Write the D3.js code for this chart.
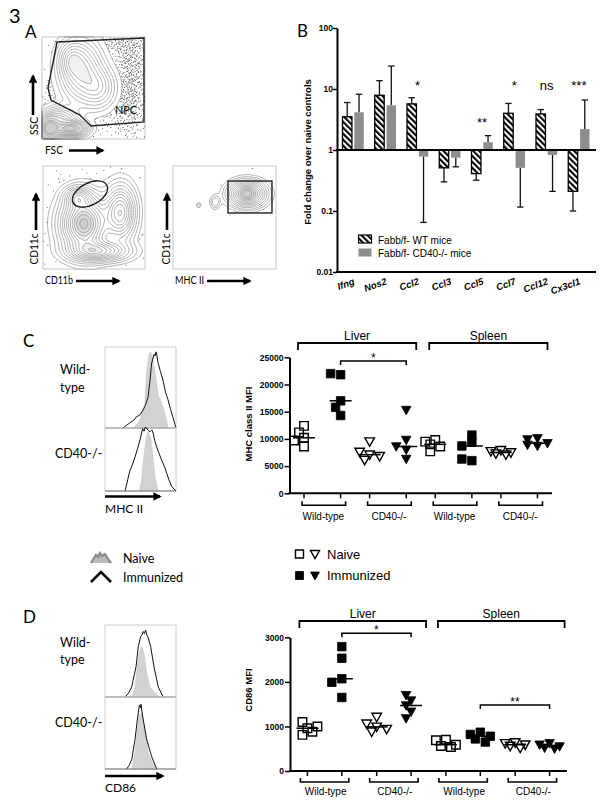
<!DOCTYPE html>
<html><head><meta charset="utf-8">
<script src="https://cdn.jsdelivr.net/npm/d3@7"></script>
<style>body{margin:0;background:#fff}svg{display:block}</style>
</head><body>
<svg id="c" width="604" height="810"></svg>
<script>
// ---------------- DATA ----------------
// Panel B: fold change over naive controls (log scale)
const genes = ["Ifng","Nos2","Ccl2","Ccl3","Ccl5","Ccl7","Ccl12","Cx3cl1"];
const wtFold   = [3.5, 7.9, 5.7, 0.51, 0.41, 4.0, 3.9, 0.21];
const wtErr    = [6.0, 13.7, 7.2, 0.30, 0.32, 5.8, 4.6, 0.10];
const cd40Fold = [4.15, 5.4, 0.78, 0.75, 1.34, 0.51, 0.83, 2.2];
const cd40Err  = [8.2, 23.8, 0.065, 0.53, 1.72, 0.116, 0.21, 6.6];
const sigLabels = ["", "", "*", "", "**", "*", "ns", "***"];
const sigLevel  = [null, null, 9.6, null, 2.4, 9.6, 9.6, 9.6];
const bTicks = [0.01, 0.1, 1, 10, 100];
const bSeries = ["Fabb/f- WT mice", "Fabb/f- CD40-/- mice"];

// Panels C & D: scatter groups
const organs = ["Liver", "Spleen"];
const genotypes = ["Wild-type", "CD40-/-"];
const conditions = ["Naive", "Immunized"];
// column order: organ x genotype x condition
const mhcII = [
  [12400, 10200, 8600, 11200, 9700],
  [21800, 22000, 17000, 14300, 15800],
  [9500, 7100, 7600, 6100, 6800],
  [15300, 9800, 8000, 8600, 6300],
  [9800, 9500, 8600, 7700, 9000],
  [10700, 9400, 8700, 6000, 6300],
  [7900, 7700, 7500, 7300, 7100],
  [10100, 9900, 9200, 8700, 8900]
];
const cd86 = [
  [960, 1100, 810, 1000, 880],
  [2530, 2790, 2070, 1990, 1650],
  [1210, 990, 1060, 880, 940],
  [1580, 1700, 1470, 1330, 1180],
  [700, 690, 560, 540, 590],
  [870, 820, 780, 720, 650],
  [640, 620, 590, 560, 520],
  [620, 590, 550, 520, 500]
];
const mhcTicks = [0, 5000, 10000, 15000, 20000, 25000];
const cd86Ticks = [0, 1000, 2000, 3000];
const sigC = [{from: 1, to: 3, label: "*", at: 24300}];
const sigD = [{from: 1, to: 3, label: "*", at: 3090}, {from: 5, to: 7, label: "**", at: 1480}];

// Histograms: [channel %, count %]
const histC_WT_naive = [[40,0],[49,9.5],[56,30],[58.7,70],[62,91],[64.3,94],[67,86],[70.4,70],[75,40],[80,30],[84.5,17],[89,0]];
const histC_WT_imm = [[25,0],[30,3],[35,6.5],[40,9],[44,13.6],[49,16],[53.5,22],[57,28],[60.6,38],[63.4,59],[65.7,80],[67,84],[69,91],[70.5,89],[71.8,94],[73,90],[74.6,81],[78,70],[81.7,59],[85,45],[88.7,35],[92,24],[95.4,14],[100,0]];
const histC_KO_naive = [[48.4,0],[51.6,17],[54,49],[57.7,81],[59.5,90],[61,94],[62.5,88],[64.3,86],[67,60],[70.4,23],[73.7,4],[75,0]];
const histC_KO_imm = [[28.2,0],[32,18],[35.2,33],[38,40],[42.3,54],[46,68],[49.3,81],[53,99],[55,95],[56.5,101],[58.7,100],[61,96],[63.4,94],[66,97],[68,91],[70,80],[72.8,70],[76,60],[79.8,49],[84,38],[87,28],[90,18],[94,7],[100,0]];
const histD_WT_naive = [[37.6,0],[42.3,14],[45.5,42],[48.4,63],[51.6,70],[55,61],[58.7,33],[63.4,14],[70.4,6],[77.5,0]];
const histD_WT_imm = [[28.2,0],[33,5],[37.6,14],[43.7,42],[46.9,70],[50.2,84],[52,86],[53.9,91],[55.5,88],[57.3,93],[59,86],[61,82],[64.3,70],[69,42],[75,14],[82,0]];
const histD_KO_naive = [[37.6,0],[42.3,22],[45.5,54],[48.4,75],[51.6,78],[55,59],[61,22],[68,6],[72.8,0]];
const histD_KO_imm = [[30.5,0],[34,5],[37.6,13],[42.3,41],[45.5,68],[48.4,89],[50,85],[50.7,90],[52,80],[54,68],[58.7,41],[65.8,17],[72.8,0]];

// Panel A flow plots: density clusters [cx, cy, sx, sy, weight] in frame units
const fscSscClusters = [[0.38,0.33,0.12,0.18,1.0],[0.55,0.5,0.1,0.12,0.6],[0.28,0.22,0.07,0.1,0.5],[0.07,0.9,0.06,0.07,2.2],[0.28,0.9,0.09,0.045,2.0],[0.18,0.8,0.1,0.07,0.8]];
const fscSscDots = [[0.86,0.42,0.09,0.3,1.0],[0.6,0.08,0.25,0.05,0.7],[0.15,0.6,0.07,0.2,0.5],[0.5,0.75,0.3,0.12,0.3]];
const cd11bCd11cClusters = [[0.4,0.56,0.14,0.17,1.0],[0.76,0.45,0.09,0.16,0.7],[0.55,0.83,0.18,0.06,0.6],[0.34,0.3,0.08,0.06,0.4]];
const cd11bCd11cDots = [[0.5,0.55,0.3,0.28,0.45]];
const mhcCd11cClusters = [[0.72,0.27,0.1,0.07,1.0],[0.41,0.35,0.03,0.04,0.15],[0.25,0.38,0.015,0.015,0.1]];
const mhcCd11cDots = [[0.72,0.27,0.16,0.12,0.25]];
const npcGate = [[0.146,0.049],[0.99,0.01],[0.99,0.833],[0.476,0.873],[0.369,0.765],[0.087,0.618],[0.058,0.5]];
const mhcGate = [[0.534,0.146],[0.961,0.456]];

// ---------------- DRAWING ----------------
const ARIAL = "'Liberation Sans', Arial, sans-serif";
const CAL = "Lato, 'Open Sans', sans-serif";
const svg = d3.select("#c");
const defs = svg.append("defs");

function text(x, y, s, size, opts = {}) {
  const t = svg.append("text").attr("x", x).attr("y", y).text(s)
    .attr("font-family", opts.family || ARIAL).attr("font-size", size)
    .attr("fill", opts.fill || "#000");
  if (opts.weight) t.attr("font-weight", opts.weight);
  if (opts.style) t.attr("font-style", opts.style);
  if (opts.anchor) t.attr("text-anchor", opts.anchor);
  if (opts.len) t.attr("textLength", opts.len).attr("lengthAdjust", "spacingAndGlyphs");
  if (opts.rotate !== undefined) t.attr("transform", `rotate(${opts.rotate},${x},${y})`);
  return t;
}

// arrow marker
defs.append("marker").attr("id", "arr").attr("viewBox", "0 0 10 10").attr("refX", 8).attr("refY", 5)
  .attr("markerWidth", 3.2).attr("markerHeight", 3.2).attr("orient", "auto")
  .append("path").attr("d", "M0,0 L10,5 L0,10 z").attr("fill", "#000");
function arrow(x1, y1, x2, y2) {
  svg.append("line").attr("x1", x1).attr("y1", y1).attr("x2", x2).attr("y2", y2)
    .attr("stroke", "#000").attr("stroke-width", 2.6).attr("marker-end", "url(#arr)");
}

// Panel labels
text(9, 23, "3", 20, {family: CAL});
text(25, 38, "A", 17, {family: CAL});
text(297, 37, "B", 17, {family: CAL});
text(23, 347, "C", 17, {family: CAL});
text(23, 623, "D", 17, {family: CAL});

// ---------- Panel A ----------
function mix(clusters, x, y) {
  let s = 0;
  for (const [cx, cy, sx, sy, wt] of clusters)
    s += wt * Math.exp(-((x - cx) ** 2 / (2 * sx * sx) + (y - cy) ** 2 / (2 * sy * sy)));
  return s;
}
function halton(i, b) { let f = 1, r = 0; while (i > 0) { f /= b; r += f * (i % b); i = Math.floor(i / b); } return r; }
function flowPlot(x0, y0, w, h, clusters, levels, dots, nDots) {
  const n = 70;
  const vals = new Float64Array(n * n);
  for (let j = 0; j < n; j++) for (let i = 0; i < n; i++) vals[j * n + i] = mix(clusters, (i + 0.5) / n, (j + 0.5) / n);
  const g = svg.append("g").attr("transform", `translate(${x0},${y0})`);
  g.append("rect").attr("width", w).attr("height", h).attr("fill", "#fff").attr("stroke", "#c8c8c8").attr("stroke-width", 1);
  // stipple (deterministic low-discrepancy sequence thinned by density)
  const pts = [];
  for (let i = 1; i <= nDots; i++) {
    const x = halton(i, 2), y = halton(i, 3), a = halton(i, 5);
    if (a < mix(dots, x, y)) pts.push([x * w, y * h]);
  }
  g.append("g").selectAll("circle").data(pts).join("circle").attr("cx", d => d[0]).attr("cy", d => d[1])
    .attr("r", 0.55).attr("fill", "#555");
  const cs = d3.contours().size([n, n]).thresholds(levels)(vals);
  const path = d3.geoPath(d3.geoIdentity().scale(w / n));
  g.append("g").attr("transform", `scale(1,${h / w})`).selectAll("path").data(cs).join("path")
    .attr("d", path).attr("fill", (d, i) => i === 0 ? "#fff" : (i > levels.length * 0.6 ? "rgba(120,120,120,0.10)" : "none"))
    .attr("stroke", "#808080").attr("stroke-width", 0.6);
  return g;
}
// plot 1
const g1 = flowPlot(42, 37, 103, 102, fscSscClusters, [0.05,0.12,0.2,0.3,0.42,0.55,0.7,0.85,1.0,1.3,1.6,1.9], fscSscDots, 3500);
g1.append("path").attr("d", d3.line().x(d => d[0] * 103).y(d => d[1] * 102).curve(d3.curveLinearClosed)(npcGate))
  .attr("fill", "none").attr("stroke", "#222").attr("stroke-width", 1.4);
text(115, 114, "NPC", 11.5, {family: CAL, len: 22});
arrow(33, 115, 33, 76);
text(38, 126, "SSC", 11.5, {family: CAL, anchor: "middle", rotate: -90, len: 18});
text(45, 154, "FSC", 11.5, {family: CAL, len: 18});
arrow(69, 150.5, 103, 150.5);
// plot 2
const g2 = flowPlot(43, 166, 102, 103, cd11bCd11cClusters, [0.04,0.08,0.13,0.19,0.26,0.33,0.4,0.48,0.56,0.64,0.72,0.8,0.88,0.96,1.05], cd11bCd11cDots, 1500);
g2.append("ellipse").attr("cx", 47).attr("cy", 28).attr("rx", 19).attr("ry", 11)
  .attr("transform", "rotate(-28,47,28)").attr("fill", "none").attr("stroke", "#222").attr("stroke-width", 1.4);
arrow(36, 230, 36, 194);
text(38, 249, "CD11c", 11.5, {family: CAL, anchor: "middle", rotate: -90, len: 31});
text(45, 284, "CD11b", 11.5, {family: CAL, len: 28});
arrow(76, 281, 119, 281);
// plot 3
const g3 = flowPlot(173, 166, 103, 103, mhcCd11cClusters, [0.03,0.06,0.1,0.16,0.23,0.31,0.4,0.5,0.6,0.7,0.8,0.9], mhcCd11cDots, 800);
g3.append("rect").attr("x", mhcGate[0][0] * 103).attr("y", mhcGate[0][1] * 103)
  .attr("width", (mhcGate[1][0] - mhcGate[0][0]) * 103).attr("height", (mhcGate[1][1] - mhcGate[0][1]) * 103)
  .attr("fill", "none").attr("stroke", "#222").attr("stroke-width", 1.4);
arrow(167, 230, 167, 194);
text(170, 249, "CD11c", 11.5, {family: CAL, anchor: "middle", rotate: -90, len: 31});
text(175, 284, "MHC II", 11.5, {family: CAL, len: 29});
arrow(207, 281, 250, 281);

// ---------- Panel B ----------
const pat = defs.append("pattern").attr("id", "hatch").attr("patternUnits", "userSpaceOnUse")
  .attr("width", 4.2).attr("height", 4.2).attr("patternTransform", "rotate(-45)");
pat.append("rect").attr("width", 4.2).attr("height", 4.2).attr("fill", "#fff");
pat.append("rect").attr("width", 2.1).attr("height", 4.2).attr("fill", "#000");

const yB = d3.scaleLog().domain([0.01, 100]).range([272, 28]);
const xB = d3.scaleBand().domain(genes).range([337, 595]).paddingInner(0.34).paddingOuter(0.17);
const xS = d3.scaleBand().domain(["WT", "CD40"]).range([0, xB.bandwidth()]).paddingInner(0.2);
const gB = svg.append("g");
const base = yB(1);
genes.forEach((g, i) => {
  const series = [
    {k: "WT", v: wtFold[i], e: wtErr[i]},
    {k: "CD40", v: cd40Fold[i], e: cd40Err[i]}
  ];
  series.forEach(s => {
    const x = xB(g) + xS(s.k), w = xS.bandwidth();
    const yv = yB(s.v);
    const cx = x + w / 2;
    gB.append("line").attr("x1", cx).attr("x2", cx).attr("y1", yv).attr("y2", yB(s.e))
      .attr("stroke", "#111").attr("stroke-width", 1.3);
    gB.append("line").attr("x1", cx - 3.2).attr("x2", cx + 3.2).attr("y1", yB(s.e)).attr("y2", yB(s.e))
      .attr("stroke", "#111").attr("stroke-width", 1.3);
    gB.append("rect").attr("x", x).attr("width", w)
      .attr("y", Math.min(yv, base)).attr("height", Math.abs(yv - base))
      .attr("fill", s.k === "WT" ? "url(#hatch)" : "#8d8d8d")
      .attr("stroke", s.k === "WT" ? "#000" : "none").attr("stroke-width", 1.3);
  });
  if (sigLabels[i]) text(xB(g) + xB.bandwidth() / 2, yB(sigLevel[i]), sigLabels[i], 13, {anchor: "middle"});
  text(xB(g) + xB.bandwidth() / 2 + 2, 284, g, 9.5, {weight: "bold", style: "italic", anchor: "end", rotate: -20});
});
// axes
const axB = svg.append("g").attr("transform", "translate(337,0)")
  .call(d3.axisLeft(yB).tickValues(bTicks).tickFormat(d => String(d)).tickSize(4).tickSizeOuter(0));
axB.select(".domain").attr("stroke-width", 2);
axB.selectAll(".tick line").attr("stroke-width", 1.5);
axB.selectAll(".tick text").attr("font-family", ARIAL).attr("font-weight", "bold").attr("font-size", 8.5).attr("x", -4);
svg.append("line").attr("x1", 336).attr("x2", 596).attr("y1", base).attr("y2", base).attr("stroke", "#000").attr("stroke-width", 2);
svg.append("line").attr("x1", 336).attr("x2", 596).attr("y1", 272).attr("y2", 272).attr("stroke", "#000").attr("stroke-width", 2);
text(311, 152, "Fold change over naive controls", 9.5, {weight: "bold", anchor: "middle", rotate: -90});
// legend
svg.append("rect").attr("x", 358.5).attr("y", 235).attr("width", 13).attr("height", 8).attr("fill", "url(#hatch)").attr("stroke", "#000").attr("stroke-width", 1.2);
svg.append("rect").attr("x", 358.5).attr("y", 248.5).attr("width", 13).attr("height", 8).attr("fill", "#8d8d8d");
text(378, 243.5, bSeries[0], 10);
text(378, 257, bSeries[1], 10);

// ---------- Histograms ----------
function histPanel(x0, x1, rows, axisLabel, arrowY, arrowEnd, labelY) {
  const xs = d3.scaleLinear().domain([0, 100]).range([x0, x1]);
  rows.forEach(r => {
    const ys = d3.scaleLinear().domain([0, 100]).range([r.yb, r.yt]);
    svg.append("rect").attr("x", x0).attr("y", r.yt).attr("width", x1 - x0).attr("height", r.yb - r.yt)
      .attr("fill", "none").attr("stroke", "#cfcfcf").attr("stroke-width", 1);
    const area = d3.area().x(d => xs(d[0])).y0(r.yb).y1(d => ys(d[1]));
    svg.append("path").attr("d", area(r.naive)).attr("fill", "#d2d2d2").attr("stroke", "#c4c4c4").attr("stroke-width", 0.6);
    const line = d3.line().x(d => xs(d[0])).y(d => ys(d[1]));
    svg.append("path").attr("d", line(r.imm)).attr("fill", "none").attr("stroke", "#111").attr("stroke-width", 1);
    svg.append("line").attr("x1", x0).attr("x2", x1).attr("y1", r.yb).attr("y2", r.yb).attr("stroke", "#777").attr("stroke-width", 1);
  });
  arrow(x0, arrowY, arrowEnd, arrowY);
  text(x0, labelY, axisLabel, 12, {family: CAL});
}
histPanel(105, 176, [
  {yt: 347, yb: 428, naive: histC_WT_naive, imm: histC_WT_imm},
  {yt: 428, yb: 491, naive: histC_KO_naive, imm: histC_KO_imm}
], "MHC II", 496.5, 160, 513);
text(60, 374, "Wild-", 12.5, {family: CAL});
text(60, 391.5, "type", 12.5, {family: CAL});
text(55, 458, "CD40-/-", 12.5, {family: CAL});

histPanel(105, 176, [
  {yt: 625, yb: 697, naive: histD_WT_naive, imm: histD_WT_imm},
  {yt: 697, yb: 769, naive: histD_KO_naive, imm: histD_KO_imm}
], "CD86", 776, 163, 792);
text(60, 647, "Wild-", 12.5, {family: CAL});
text(60, 663.5, "type", 12.5, {family: CAL});
text(55, 727, "CD40-/-", 12.5, {family: CAL});

// histogram legend icons
const iconNaive = [[0,0],[3,-5],[5,-8],[7,-6],[9,-10],[11,-7],[14,-9],[17,-4],[20,0]];
const iconImm = [[0,0],[5,-5],[10,-10],[15,-5],[20,0]];
const iconLine = d3.line().x(d => 91 + d[0]).y(d => d[1]);
svg.append("path").attr("d", iconLine(iconNaive)).attr("transform", "translate(0,563)")
  .attr("fill", "#bbb").attr("stroke", "#8a8a8a").attr("stroke-width", 2.2);
svg.append("path").attr("d", iconLine(iconImm)).attr("transform", "translate(0,582)")
  .attr("fill", "none").attr("stroke", "#000").attr("stroke-width", 2.6);
text(123, 563, "Naive", 12.5, {family: CAL});
text(123, 582, "Immunized", 12.5, {family: CAL});

// ---------- Scatter panels ----------
function marker(g, shape, filled, x, y, sz) {
  const h = sz / 2;
  let d;
  if (shape === "square") d = `M${x - h},${y - h}h${sz}v${sz}h${-sz}z`;
  else d = `M${x - h - 0.5},${y - h + 0.5}L${x + h + 0.5},${y - h + 0.5}L${x},${y + h + 0.5}z`;
  g.append("path").attr("d", d).attr("fill", filled ? "#000" : "none")
    .attr("stroke", "#000").attr("stroke-width", filled ? 0.8 : 1.4);
}
function dodge(vals, ys, r, step, maxK) {
  const placed = [];
  const cands = [0];
  for (let k = 1; k <= maxK; k++) cands.push(-k * step, k * step);
  return vals.map(v => {
    const y = ys(v);
    let best = 0, bestD = -1;
    for (const dx of cands) {
      const md = placed.length ? d3.min(placed, p => Math.hypot(p.dx - dx, p.y - y)) : Infinity;
      if (md >= r) { best = dx; bestD = Infinity; break; }
      if (md > bestD) { bestD = md; best = dx; }
    }
    placed.push({dx: best, y});
    return best;
  });
}
function scatterPanel(cfg) {
  const {data, ticks, x0, x1, y0, yTop, vmax, inner, yLabel, labelY, sig, top, bottom, labelBaseline} = cfg;
  const ys = d3.scaleLinear().domain([0, vmax]).range([y0, yTop]);
  const groups = [];
  organs.forEach(o => genotypes.forEach(gt => groups.push(o + "|" + gt)));
  const xg = d3.scaleBand().domain(groups).range([x0, x1]);
  const xi = d3.scalePoint().domain(conditions).range([-inner, inner]);
  const cols = [];
  groups.forEach(g => conditions.forEach(c => cols.push({g, c, x: xg(g) + xg.bandwidth() / 2 + xi(c)})));
  const g = svg.append("g");
  // axes
  const ax = g.append("g").attr("transform", `translate(${x0},0)`)
    .call(d3.axisLeft(ys).tickValues(ticks).tickSize(5).tickSizeOuter(0).tickFormat(d3.format("d")));
  ax.select(".domain").attr("stroke-width", 2);
  ax.selectAll(".tick line").attr("stroke-width", 1.5);
  ax.selectAll(".tick text").attr("font-family", ARIAL).attr("font-weight", "bold").attr("font-size", 8.5).attr("x", -6);
  g.append("line").attr("x1", x0 - 1).attr("x2", x1).attr("y1", y0).attr("y2", y0).attr("stroke", "#000").attr("stroke-width", 2);
  cols.forEach(c => g.append("line").attr("x1", c.x).attr("x2", c.x).attr("y1", y0).attr("y2", y0 + 5).attr("stroke", "#000").attr("stroke-width", 1.5));
  // bottom group brackets
  groups.forEach((gr, i) => {
    const a = cols[i * 2].x - bottom[0], b = cols[i * 2 + 1].x + bottom[1], yb = y0 + bottom[2];
    g.append("path").attr("d", `M${a},${yb - 4}V${yb}H${b}V${yb - 4}`).attr("fill", "none").attr("stroke", "#000").attr("stroke-width", 1.6);
    text(xg(gr) + xg.bandwidth() / 2 + 1, labelBaseline, gr.split("|")[1], 10, {anchor: "middle"});
  });
  // top organ brackets
  organs.forEach((o, k) => {
    const a = cols[k * 4].x - top[0], b = cols[k * 4 + 3].x + top[1], yt = top[2];
    g.append("path").attr("d", `M${a},${yt + 7}V${yt}H${b}V${yt + 7}`).attr("fill", "none").attr("stroke", "#000").attr("stroke-width", 1.8);
    text((a + b) / 2, yt - 3.5, o, 12, {anchor: "middle"});
  });
  // significance
  sig.forEach(s => {
    const a = cols[s.from].x, b = cols[s.to].x, yy = ys(s.at);
    g.append("path").attr("d", `M${a},${yy + 4}V${yy}H${b}V${yy + 4}`).attr("fill", "none").attr("stroke", "#000").attr("stroke-width", 1.5);
    text((a + b) / 2, yy + 1, s.label, 12, {anchor: "middle"});
  });
  // points
  data.forEach((vals, i) => {
    const c = cols[i];
    const shape = c.g.endsWith("Wild-type") ? "square" : "tri";
    const filled = c.c === "Immunized";
    const offs = dodge(vals, ys, 7, 5, 2);
    vals.forEach((v, j) => marker(g, shape, filled, c.x + offs[j], ys(v), 8.5));
    const med = d3.median(vals);
    g.append("line").attr("x1", c.x - 11).attr("x2", c.x + 11).attr("y1", ys(med)).attr("y2", ys(med)).attr("stroke", "#000").attr("stroke-width", 1.5);
  });
  text(x0 - 38, labelY, yLabel, 9.5, {weight: "bold", anchor: "middle", rotate: -90});
}
scatterPanel({data: mhcII, ticks: mhcTicks, x0: 289.5, x1: 552, y0: 493.3, yTop: 357.3, vmax: 25000, inner: 18.3,
  yLabel: "MHC class II MFI", labelY: 424, sig: sigC, top: [6, 10, 343], bottom: [2, 5, 12], labelBaseline: 520});
scatterPanel({data: cd86, ticks: cd86Ticks, x0: 290, x1: 567, y0: 771, yTop: 637.3, vmax: 3000, inner: 17.2,
  yLabel: "CD86 MFI", labelY: 690, sig: sigD, top: [8, 15, 621], bottom: [7, 7, 11], labelBaseline: 795});

// scatter legend
const lg = svg.append("g");
marker(lg, "square", false, 299.5, 554, 8);
marker(lg, "tri", false, 315, 554, 8);
marker(lg, "square", true, 299.5, 575.5, 8);
marker(lg, "tri", true, 315, 575.5, 8);
text(327, 558.5, conditions[0], 13);
text(327, 580, conditions[1], 13);
</script>
</body></html>
